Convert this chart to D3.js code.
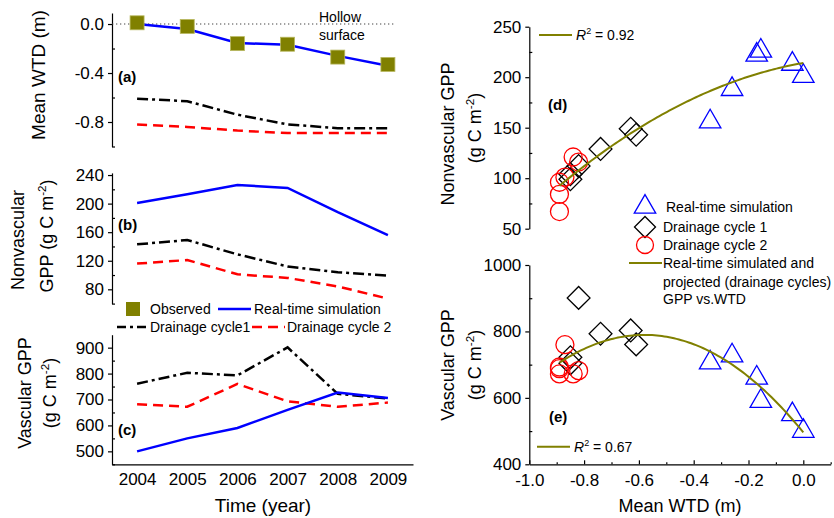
<!DOCTYPE html>
<html>
<head>
<meta charset="utf-8">
<script src="https://cdn.jsdelivr.net/npm/d3@7"></script>
<style>
  body { margin: 0; background: #fff; }
  svg text { font-family: "Liberation Sans", Arial, sans-serif; fill: #000; }
</style>
</head>
<body>
<div id="chart"></div>
<script>
var W = 834, H = 518;

var years = [2004, 2005, 2006, 2007, 2008, 2009];

// (a) mean water table depth, m
var wtdObserved = [0.01, -0.02, -0.16, -0.165, -0.27, -0.33];
var wtdSim      = [0.0, -0.04, -0.155, -0.17, -0.26, -0.34];
var wtdDrain1   = [-0.61, -0.63, -0.74, -0.82, -0.85, -0.85];
var wtdDrain2   = [-0.82, -0.84, -0.87, -0.89, -0.89, -0.89];

// (b) nonvascular GPP, g C m-2
var nonvSim    = [201, 213, 226, 222, 188, 156];
var nonvDrain1 = [143, 149, 129, 112, 104, 99];
var nonvDrain2 = [116, 121, 101, 96, 84, 67];

// (c) vascular GPP, g C m-2
var vascSim    = [500, 550, 590, 660, 727, 706];
var vascDrain1 = [761, 803, 793, 901, 722, 704];
var vascDrain2 = [682, 672, 760, 693, 672, 688];

var ticksA = [0.0, -0.4, -0.8], minorA = [-0.2, -0.6, -1.0];
var ticksB = [80, 120, 160, 200, 240], minorB = [60, 100, 140, 180, 220];
var ticksC = [500, 600, 700, 800, 900], minorC = [450, 550, 650, 750, 850];
var ticksD = [50, 100, 150, 200, 250], minorD = [75, 125, 175, 225];
var ticksE = [400, 600, 800, 1000], minorE = [500, 700, 900];
var ticksWTD = [-1.0, -0.8, -0.6, -0.4, -0.2, 0.0], minorWTD = [-0.9, -0.7, -0.5, -0.3, -0.1, 0.1];
var r2D = "0.92", r2E = "0.67";

var OLIVE = "#808000", BLUE = "#0000ff", RED = "#ff0000";

var svg = d3.select("#chart").append("svg").attr("width", W).attr("height", H);

var x = d3.scaleLinear().domain([2003.5, 2009.5]).range([112, 413]);
var yA = d3.scaleLinear().domain([-1.0, 0.09]).range([146.5, 13]);
var yB = d3.scaleLinear().domain([60, 243]).range([303.6, 172.9]);
var yC = d3.scaleLinear().domain([450, 950]).range([464.3, 334.7]);
var xR = d3.scaleLinear().domain([-1.0, 0.1]).range([529.3, 830.7]);
var yD = d3.scaleLinear().domain([50, 250]).range([228.7, 26.7]);
var yE = d3.scaleLinear().domain([400, 1000]).range([464.3, 265]);

function fmt1(d) { return d.toFixed(1); }
var fmtInt = d3.format("d");

function styleAxis(g) {
  g.attr("font-size", 17).attr("font-family", null);
  g.selectAll("path, line").attr("stroke", "#000").attr("stroke-width", 1.2);
}

function yAxis(y, x0, majors, minors, f) {
  var g = svg.append("g").attr("transform", "translate(" + x0 + ",0)");
  g.call(d3.axisLeft(y).tickValues(majors).tickSize(4).tickSizeOuter(0).tickPadding(4).tickFormat(f || fmtInt));
  styleAxis(g);
  var m = svg.append("g").attr("transform", "translate(" + x0 + ",0)");
  m.call(d3.axisLeft(y).tickValues(minors).tickSize(-3).tickSizeOuter(0).tickFormat(""));
  m.select(".domain").remove();
  styleAxis(m);
}

// ---------- left panels ----------
yAxis(yA, 112, ticksA, minorA, fmt1);
yAxis(yB, 112, ticksB, minorB);
yAxis(yC, 112, ticksC, minorC);

var gx = svg.append("g").attr("transform", "translate(0," + yC.range()[0] + ")");
gx.call(d3.axisBottom(x).tickValues(years).tickSize(0).tickSizeOuter(0).tickPadding(9).tickFormat(fmtInt));
styleAxis(gx);

function yearLine(y) {
  return d3.line().x(function (d, i) { return x(years[i]); }).y(function (d) { return y(d); });
}

function drawSeries(y, vals, color, dash) {
  svg.append("path").datum(vals)
    .attr("d", yearLine(y))
    .attr("fill", "none").attr("stroke", color).attr("stroke-width", 2.5)
    .attr("stroke-dasharray", dash || null);
}

var DASHDOT = "11,4,3,4", DASH = "10,6";

// hollow surface reference
svg.append("line").attr("x1", 112).attr("x2", 395).attr("y1", yA(0)).attr("y2", yA(0))
  .attr("stroke", "#444").attr("stroke-width", 1.2).attr("stroke-dasharray", "1.3,2.7");
svg.append("text").attr("x", 319).attr("y", 22).attr("font-size", 14).text("Hollow");
svg.append("text").attr("x", 319).attr("y", 40).attr("font-size", 14).text("surface");

drawSeries(yA, wtdDrain1, "#000", DASHDOT);
drawSeries(yA, wtdDrain2, RED, DASH);
drawSeries(yA, wtdSim, BLUE);
svg.selectAll("rect.obs").data(wtdObserved).enter().append("rect")
  .attr("class", "obs")
  .attr("x", function (d, i) { return x(years[i]) - 7; })
  .attr("y", function (d) { return yA(d) - 7; })
  .attr("width", 14).attr("height", 14)
  .attr("fill", OLIVE).attr("stroke", "#b8b860").attr("stroke-width", 0.8);

drawSeries(yB, nonvDrain1, "#000", DASHDOT);
drawSeries(yB, nonvDrain2, RED, DASH);
drawSeries(yB, nonvSim, BLUE);

drawSeries(yC, vascDrain1, "#000", DASHDOT);
drawSeries(yC, vascDrain2, RED, DASH);
drawSeries(yC, vascSim, BLUE);

// panel tags
[["(a)", 118, 82], ["(b)", 118, 230], ["(c)", 118, 435], ["(d)", 548, 110], ["(e)", 549, 422]].forEach(function (p) {
  svg.append("text").attr("x", p[1]).attr("y", p[2]).attr("font-size", 15).attr("font-weight", "bold").text(p[0]);
});

// left legend
var lg = svg.append("g").attr("font-size", 14);
lg.append("rect").attr("x", 126).attr("y", 302).attr("width", 14).attr("height", 14).attr("fill", OLIVE);
lg.append("text").attr("x", 150).attr("y", 314).text("Observed");
lg.append("line").attr("x1", 218).attr("x2", 251).attr("y1", 309).attr("y2", 309).attr("stroke", BLUE).attr("stroke-width", 2.5);
lg.append("text").attr("x", 254).attr("y", 314).text("Real-time simulation");
lg.append("line").attr("x1", 117).attr("x2", 149).attr("y1", 327).attr("y2", 327).attr("stroke", "#000").attr("stroke-width", 2.5).attr("stroke-dasharray", "9,4,3,4");
lg.append("text").attr("x", 150).attr("y", 332).text("Drainage cycle1");
lg.append("line").attr("x1", 252).attr("x2", 285).attr("y1", 327).attr("y2", 327).attr("stroke", RED).attr("stroke-width", 2.5).attr("stroke-dasharray", DASH);
lg.append("text").attr("x", 287).attr("y", 332).text("Drainage cycle 2");

// rotated axis titles
function vTitle(cx, cy, size, parts) {
  var t = svg.append("text").attr("transform", "translate(" + cx + "," + cy + ") rotate(-90)")
    .attr("text-anchor", "middle").attr("dy", "0.35em").attr("font-size", size);
  parts.forEach(function (p) {
    var s = t.append("tspan").text(p.t);
    if (p.sup) s.attr("dy", -7).attr("font-size", size * 0.65);
    if (p.down) s.attr("dy", 7);
  });
}
function gcm(cx, cy, size, prefix) {
  vTitle(cx, cy, size, [{ t: prefix + "(g C m" }, { t: "-2", sup: true }, { t: ")", down: true }]);
}

vTitle(38, 75, 19, [{ t: "Mean WTD (m)" }]);
vTitle(18, 240, 18, [{ t: "Nonvascular" }]);
gcm(47, 236, 18, "GPP ");
vTitle(25, 393, 18, [{ t: "Vascular GPP" }]);
gcm(50, 393, 18, "");
svg.append("text").attr("x", 263).attr("y", 512).attr("text-anchor", "middle").attr("font-size", 19).text("Time (year)");

// ---------- right panels ----------
yAxis(yD, 529.3, ticksD, minorD);
yAxis(yE, 529.3, ticksE, minorE);
var gxr = svg.append("g").attr("transform", "translate(0," + yE.range()[0] + ")");
gxr.call(d3.axisBottom(xR).tickValues(ticksWTD).tickSize(-4).tickSizeOuter(0).tickPadding(10).tickFormat(fmt1));
styleAxis(gxr);
var gxm = svg.append("g").attr("transform", "translate(0," + yE.range()[0] + ")");
gxm.call(d3.axisBottom(xR).tickValues(minorWTD).tickSize(-2).tickSizeOuter(0).tickFormat(""));
gxm.select(".domain").remove();
styleAxis(gxm);

vTitle(448, 134, 18, [{ t: "Nonvascular GPP" }]);
gcm(475, 128, 18, "");
vTitle(448, 365, 18, [{ t: "Vascular GPP" }]);
gcm(475, 365, 18, "");
svg.append("text").attr("x", 680).attr("y", 512).attr("text-anchor", "middle").attr("font-size", 18).text("Mean WTD (m)");

// least-squares quadratic fit through all simulated + projected points
function quadFit(xs, ys) {
  var n = xs.length, S = [0, 0, 0, 0, 0], T = [0, 0, 0];
  for (var i = 0; i < n; i++) {
    var xi = xs[i], p = 1;
    for (var k = 0; k < 5; k++) { S[k] += p; if (k < 3) T[k] += p * ys[i]; p *= xi; }
  }
  var A = [[S[0], S[1], S[2], T[0]], [S[1], S[2], S[3], T[1]], [S[2], S[3], S[4], T[2]]];
  for (var c = 0; c < 3; c++) {
    for (var r = c + 1; r < 3; r++) {
      var f = A[r][c] / A[c][c];
      for (var j = c; j < 4; j++) A[r][j] -= f * A[c][j];
    }
  }
  var b = [0, 0, 0];
  for (var r2 = 2; r2 >= 0; r2--) {
    var s = A[r2][3];
    for (var j2 = r2 + 1; j2 < 3; j2++) s -= A[r2][j2] * b[j2];
    b[r2] = s / A[r2][r2];
  }
  return function (v) { return b[0] + b[1] * v + b[2] * v * v; };
}

var allWTD = wtdSim.concat(wtdDrain1, wtdDrain2);

function scatter(y, simV, d1V, d2V) {
  var tri = d3.symbol().type(d3.symbolTriangle).size(200);
  var sq = d3.symbol().type(d3.symbolSquare).size(260);
  svg.append("g").selectAll("path").data(simV).enter().append("path")
    .attr("d", tri)
    .attr("transform", function (d, i) { return "translate(" + xR(wtdSim[i]) + "," + y(d) + ")"; })
    .attr("fill", "none").attr("stroke", BLUE).attr("stroke-width", 1.3);
  svg.append("g").selectAll("path").data(d1V).enter().append("path")
    .attr("d", sq)
    .attr("transform", function (d, i) { return "translate(" + xR(wtdDrain1[i]) + "," + y(d) + ") rotate(45)"; })
    .attr("fill", "none").attr("stroke", "#000").attr("stroke-width", 1.3);
  svg.append("g").selectAll("circle").data(d2V).enter().append("circle")
    .attr("cx", function (d, i) { return xR(wtdDrain2[i]); })
    .attr("cy", function (d) { return y(d); })
    .attr("r", 9).attr("fill", "none").attr("stroke", RED).attr("stroke-width", 1.3);

  var fit = quadFit(allWTD, simV.concat(d1V, d2V));
  var xs = d3.range(101).map(function (k) { return d3.min(allWTD) + k / 100 * (d3.max(allWTD) - d3.min(allWTD)); });
  svg.append("path").datum(xs)
    .attr("d", d3.line().x(function (v) { return xR(v); }).y(function (v) { return y(fit(v)); }))
    .attr("fill", "none").attr("stroke", OLIVE).attr("stroke-width", 2);
}
scatter(yD, nonvSim, nonvDrain1, nonvDrain2);
scatter(yE, vascSim, vascDrain1, vascDrain2);

function r2Legend(x0, y0, val) {
  svg.append("line").attr("x1", x0).attr("x2", x0 + 33).attr("y1", y0).attr("y2", y0).attr("stroke", OLIVE).attr("stroke-width", 2);
  var t = svg.append("text").attr("x", x0 + 37).attr("y", y0 + 5).attr("font-size", 14);
  t.append("tspan").attr("font-style", "italic").text("R");
  t.append("tspan").attr("dy", -6).attr("font-size", 9).text("2");
  t.append("tspan").attr("dy", 6).text(" = " + val);
}
r2Legend(539, 35, r2D);
r2Legend(537, 446.7, r2E);

// right legend
var rl = svg.append("g").attr("font-size", 14);
rl.append("path").attr("d", d3.symbol().type(d3.symbolTriangle).size(200))
  .attr("transform", "translate(645,207)").attr("fill", "none").attr("stroke", BLUE).attr("stroke-width", 1.3);
rl.append("text").attr("x", 666).attr("y", 212).text("Real-time simulation");
rl.append("path").attr("d", d3.symbol().type(d3.symbolSquare).size(220))
  .attr("transform", "translate(645,227) rotate(45)").attr("fill", "none").attr("stroke", "#000").attr("stroke-width", 1.3);
rl.append("text").attr("x", 663).attr("y", 232).text("Drainage cycle 1");
rl.append("circle").attr("cx", 645).attr("cy", 245).attr("r", 8.5).attr("fill", "none").attr("stroke", RED).attr("stroke-width", 1.3);
rl.append("text").attr("x", 663).attr("y", 250).text("Drainage cycle 2");
rl.append("line").attr("x1", 629).attr("x2", 662).attr("y1", 263).attr("y2", 263).attr("stroke", OLIVE).attr("stroke-width", 2);
rl.append("text").attr("x", 663).attr("y", 268).text("Real-time simulated and");
rl.append("text").attr("x", 663).attr("y", 287).text("projected (drainage cycles)");
rl.append("text").attr("x", 663).attr("y", 304).text("GPP vs.WTD");
</script>
</body>
</html>
